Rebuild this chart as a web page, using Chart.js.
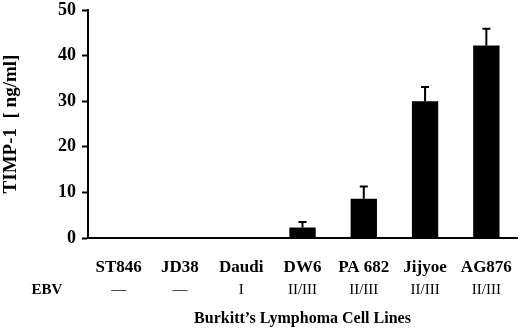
<!DOCTYPE html>
<html>
<head>
<meta charset="utf-8">
<script src="https://cdn.jsdelivr.net/npm/chart.js@4/dist/chart.umd.min.js"></script>
<style>
  html, body { margin: 0; padding: 0; background: #fff; }
  #wrap { width: 520px; height: 331px; position: relative; }
</style>
</head>
<body>
<div id="wrap"><canvas id="timp-chart"></canvas></div>
<script>
const cellLines = ['ST846', 'JD38', 'Daudi', 'DW6', 'PA 682', 'Jijyoe', 'AG876']
const ebvTypes = ['\u2014', '\u2014', 'I', 'II/III', 'II/III', 'II/III', 'II/III']
const timp1 = [0, 0, 0, 2.3, 8.6, 30, 42.2]
const timp1Err = [0, 0, 0, 1.2, 2.7, 3.1, 3.7]
const yTicks = [0, 10, 20, 30, 40, 50]

const serif = '"Liberation Serif", "Times New Roman", serif'

// error bars on top of each bar
const errorBars = {
    id: 'errorBars',
    afterDatasetsDraw(chart) {
        const ctx = chart.ctx
        const xs = chart.scales.x
        const ys = chart.scales.y
        ctx.save()
        ctx.strokeStyle = '#000'
        ctx.lineWidth = 2
        timp1.forEach((v, i) => {
            if (!timp1Err[i]) return
            const x = xs.getPixelForValue(i)
            const y0 = ys.getPixelForValue(v)
            const y1 = ys.getPixelForValue(v + timp1Err[i])
            ctx.beginPath()
            ctx.moveTo(x, y0)
            ctx.lineTo(x, y1)
            ctx.moveTo(x - 4, y1)
            ctx.lineTo(x + 4, y1)
            ctx.stroke()
        })
        ctx.restore()
    }
}

// "EBV" row caption left of the second label row
const ebvCaption = {
    id: 'ebvCaption',
    afterDraw(chart) {
        const ctx = chart.ctx
        const x2 = chart.scales.x2
        ctx.save()
        ctx.font = 'bold 15px ' + serif
        ctx.fillStyle = '#000'
        ctx.textAlign = 'center'
        ctx.textBaseline = 'middle'
        ctx.fillText('EBV', 47, x2.top + 3 + 9)
        ctx.restore()
    }
}

let ctx = document.getElementById('timp-chart')
new Chart(ctx, {
    type: 'bar',
    plugins: [errorBars, ebvCaption],
    data: {
        labels: cellLines,
        datasets: [{
            label: 'TIMP-1',
            data: timp1,
            backgroundColor: '#000',
            borderWidth: 0,
            barPercentage: 0.43,
            categoryPercentage: 1,
            xAxisID: 'x',
            yAxisID: 'y'
        }]
    },
    options: {
        responsive: true,
        maintainAspectRatio: false,
        animation: false,
        layout: { padding: { top: 10, right: 3, left: 0, bottom: 0 } },
        plugins: {
            legend: { display: false },
            tooltip: { enabled: false }
        },
        scales: {
            y: {
                min: 0,
                max: 50,
                afterBuildTicks: (scale) => { scale.ticks = yTicks.map(v => ({ value: v })) },
                afterFit: (scale) => { scale.width = 88; scale.paddingTop = 0; scale.paddingBottom = 0 },
                grid: { display: true, drawOnChartArea: false, drawTicks: true, tickLength: 6, tickColor: '#000', tickWidth: 2 },
                border: { display: true, color: '#000', width: 2 },
                ticks: {
                    padding: 6,
                    color: '#000',
                    font: { family: serif, size: 18, weight: 'bold' }
                },
                title: {
                    display: true,
                    text: 'TIMP-1  [ ng/ml]',
                    color: '#000',
                    padding: 0,
                    font: { family: serif, size: 19, weight: 'bold' }
                }
            },
            x: {
                position: 'bottom',
                weight: 0,
                offset: true,
                afterFit: (scale) => { scale.height = 40; scale.paddingLeft = 0; scale.paddingRight = 0 },
                grid: { display: false, drawTicks: false },
                border: { display: true, color: '#000', width: 2 },
                ticks: {
                    padding: 19,
                    color: '#000',
                    maxRotation: 0,
                    autoSkip: false,
                    font: { family: serif, size: 17, weight: 'bold' }
                }
            },
            x2: {
                type: 'category',
                labels: ebvTypes,
                position: 'bottom',
                weight: 1,
                offset: true,
                afterFit: (scale) => { scale.height = 53; scale.paddingLeft = 0; scale.paddingRight = 0 },
                grid: { display: false, drawTicks: false },
                border: { display: false },
                ticks: {
                    padding: 3,
                    color: '#000',
                    maxRotation: 0,
                    autoSkip: false,
                    font: { family: serif, size: 15 }
                },
                title: {
                    display: true,
                    text: 'Burkitt\u2019s Lymphoma Cell Lines',
                    color: '#000',
                    padding: { top: 0, bottom: 3 },
                    font: { family: serif, size: 16, weight: 'bold' }
                }
            }
        }
    }
})
</script>
</body>
</html>
